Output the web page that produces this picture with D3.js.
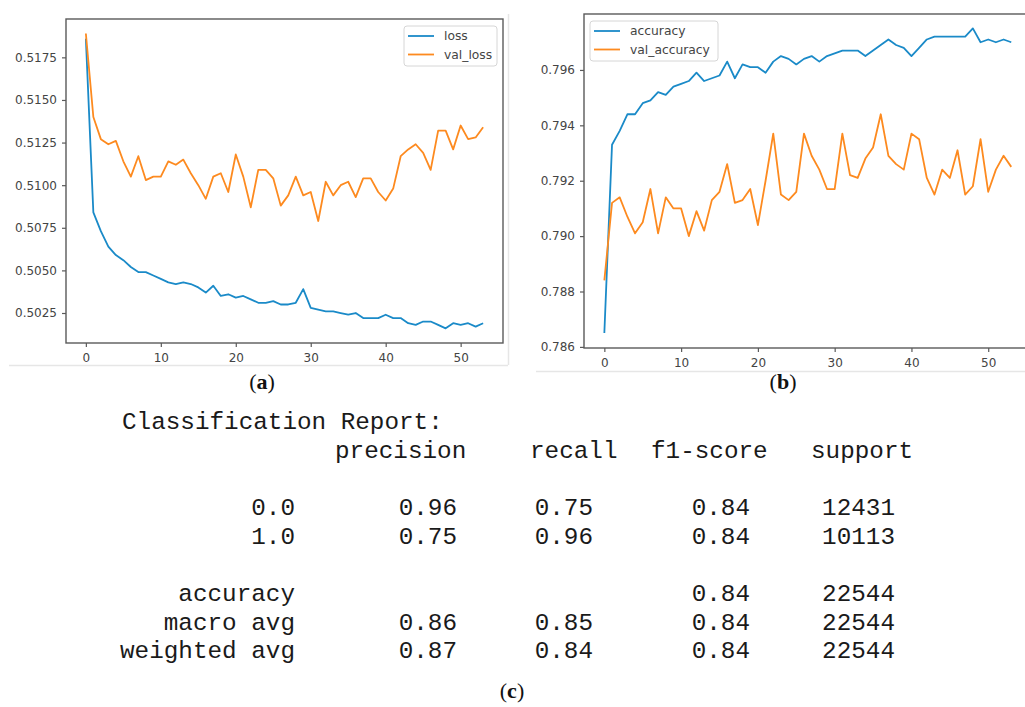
<!DOCTYPE html>
<html>
<head>
<meta charset="utf-8">
<script src="https://cdn.jsdelivr.net/npm/d3@7/dist/d3.min.js"></script>
<style>
  body { margin: 0; background: #fff; }
  svg { display: block; }
</style>
</head>
<body>
<script>
// training history (54 epochs)
const epochs = d3.range(54);
const loss = [0.5186, 0.5084, 0.5073, 0.5064, 0.5059, 0.5056, 0.5052, 0.5049, 0.5049, 0.5047,
  0.5045, 0.5043, 0.5042, 0.5043, 0.5042, 0.5040, 0.5037, 0.5041, 0.5035, 0.5036,
  0.5034, 0.5035, 0.5033, 0.5031, 0.5031, 0.5032, 0.5030, 0.5030, 0.5031, 0.5039,
  0.5028, 0.5027, 0.5026, 0.5026, 0.5025, 0.5024, 0.5025, 0.5022, 0.5022, 0.5022,
  0.5024, 0.5022, 0.5022, 0.5019, 0.5018, 0.5020, 0.5020, 0.5018, 0.5016, 0.5019,
  0.5018, 0.5019, 0.5017, 0.5019];
const valLoss = [0.5189, 0.5140, 0.5127, 0.5124, 0.5126, 0.5114, 0.5105, 0.5117, 0.5103, 0.5105,
  0.5105, 0.5114, 0.5112, 0.5115, 0.5107, 0.5100, 0.5092, 0.5105, 0.5107, 0.5096,
  0.5118, 0.5105, 0.5087, 0.5109, 0.5109, 0.5104, 0.5088, 0.5094, 0.5105, 0.5094,
  0.5096, 0.5079, 0.5102, 0.5094, 0.5100, 0.5102, 0.5093, 0.5104, 0.5104, 0.5096,
  0.5091, 0.5098, 0.5117, 0.5121, 0.5124, 0.5119, 0.5109, 0.5132, 0.5132, 0.5121,
  0.5135, 0.5127, 0.5128, 0.5134];
const accuracy = [0.7865, 0.7933, 0.7938, 0.7944, 0.7944, 0.7948, 0.7949, 0.7952, 0.7951, 0.7954,
  0.7955, 0.7956, 0.7959, 0.7956, 0.7957, 0.7958, 0.7963, 0.7957, 0.7962, 0.7961,
  0.7961, 0.7959, 0.7963, 0.7965, 0.7964, 0.7962, 0.7964, 0.7965, 0.7963, 0.7965,
  0.7966, 0.7967, 0.7967, 0.7967, 0.7965, 0.7967, 0.7969, 0.7971, 0.7969, 0.7968,
  0.7965, 0.7968, 0.7971, 0.7972, 0.7972, 0.7972, 0.7972, 0.7972, 0.7975, 0.7970,
  0.7971, 0.7970, 0.7971, 0.7970];
const valAccuracy = [0.7884, 0.7912, 0.7914, 0.7907, 0.7901, 0.7905, 0.7917, 0.7901, 0.7914, 0.7910,
  0.7910, 0.7900, 0.7909, 0.7902, 0.7913, 0.7916, 0.7926, 0.7912, 0.7913, 0.7917,
  0.7904, 0.7920, 0.7937, 0.7915, 0.7913, 0.7916, 0.7937, 0.7929, 0.7924, 0.7917,
  0.7917, 0.7937, 0.7922, 0.7921, 0.7928, 0.7932, 0.7944, 0.7929, 0.7926, 0.7924,
  0.7937, 0.7935, 0.7921, 0.7915, 0.7924, 0.7921, 0.7931, 0.7915, 0.7918, 0.7935,
  0.7916, 0.7924, 0.7929, 0.7925];

const epochTicks = [0, 10, 20, 30, 40, 50];
const lossTicks = [0.5025, 0.5050, 0.5075, 0.5100, 0.5125, 0.5150, 0.5175];
const accTicks = [0.786, 0.788, 0.790, 0.792, 0.794, 0.796];

// classification report
const reportTitle = "Classification Report:";
const reportHeader = ["precision", "recall", "f1-score", "support"];
const reportLabels = ["0.0", "1.0", "accuracy", "macro avg", "weighted avg"];
const reportValues = [
  ["0.96", "0.75", "0.84", "12431"],
  ["0.75", "0.96", "0.84", "10113"],
  ["", "", "0.84", "22544"],
  ["0.86", "0.85", "0.84", "22544"],
  ["0.87", "0.84", "0.84", "22544"]
];
const reportLine = [3, 4, 6, 7, 8];   // text line each row sits on

const blue = "#1a8ac8", orange = "#fd8a1f", axisCol = "#5a5a5a", textCol = "#444";

const svg = d3.select("body").append("svg")
  .attr("width", 1025).attr("height", 707)
  .style("font-family", "'DejaVu Sans', sans-serif");

// faint panel frames from the pasted screenshots
svg.append("line").attr("x1", 9).attr("x2", 508).attr("y1", 365.5).attr("y2", 365.5)
  .attr("stroke", "#e6e6e6").attr("stroke-width", 1.5);
svg.append("line").attr("x1", 508.5).attr("x2", 508.5).attr("y1", 14).attr("y2", 365)
  .attr("stroke", "#e6e6e6").attr("stroke-width", 1.5);
svg.append("line").attr("x1", 536).attr("x2", 1025).attr("y1", 371.5).attr("y2", 371.5)
  .attr("stroke", "#e6e6e6").attr("stroke-width", 1.5);

function panel(cfg) {
  const x = d3.scaleLinear().domain([-2.65, 55.65]).range([cfg.left, cfg.right]);
  const y = d3.scaleLinear().domain(cfg.yDomain).range([cfg.bottom, cfg.top]);
  const g = svg.append("g");

  const line = d3.line().x((d, i) => x(epochs[i])).y(d => y(d));
  cfg.series.forEach(s => {
    g.append("path").attr("d", line(s.values))
      .attr("fill", "none").attr("stroke", s.color)
      .attr("stroke-width", 1.8).attr("stroke-linejoin", "round");
  });

  // frame
  g.append("rect").attr("x", cfg.left).attr("y", cfg.top)
    .attr("width", cfg.right - cfg.left).attr("height", cfg.bottom - cfg.top)
    .attr("fill", "none").attr("stroke", axisCol).attr("stroke-width", 1.4);

  const xa = g.append("g").attr("transform", `translate(0,${cfg.bottom})`)
    .call(d3.axisBottom(x).tickValues(epochTicks).tickSize(4).tickPadding(6).tickFormat(d3.format("d")));
  const ya = g.append("g").attr("transform", `translate(${cfg.left},0)`)
    .call(d3.axisLeft(y).tickValues(cfg.yTicks).tickSize(4).tickPadding(5).tickFormat(d3.format(cfg.fmt)));
  [xa, ya].forEach(a => {
    a.select(".domain").remove();
    a.selectAll("line").attr("stroke", axisCol).attr("stroke-width", 1.2);
    a.selectAll("text").attr("fill", textCol).style("font-size", "12px")
      .style("font-family", "'DejaVu Sans', sans-serif");
  });

  // legend
  const lg = g.append("g").attr("transform", `translate(${cfg.legend.x},${cfg.legend.y})`);
  lg.append("rect").attr("width", cfg.legend.w).attr("height", 40).attr("rx", 3)
    .attr("fill", "#fff").attr("fill-opacity", 0.85).attr("stroke", "#d6d6d6");
  cfg.series.forEach((s, i) => {
    const yy = 10 + i * 18.5;
    lg.append("line").attr("x1", 4).attr("x2", 30).attr("y1", yy).attr("y2", yy)
      .attr("stroke", s.color).attr("stroke-width", 1.8);
    lg.append("text").attr("x", 40).attr("y", yy).attr("dy", "0.35em")
      .attr("fill", textCol).style("font-size", "12.3px").text(s.name);
  });
}

panel({
  left: 66, right: 503, top: 19, bottom: 343,
  yDomain: [0.50074, 0.51975], yTicks: lossTicks, fmt: ".4f",
  series: [{ name: "loss", values: loss, color: blue }, { name: "val_loss", values: valLoss, color: orange }],
  legend: { x: 404, y: 26, w: 93 }
});

panel({
  left: 584, right: 1031.6, top: 14, bottom: 348,
  yDomain: [0.78596, 0.79802], yTicks: accTicks, fmt: ".3f",
  series: [{ name: "accuracy", values: accuracy, color: blue }, { name: "val_accuracy", values: valAccuracy, color: orange }],
  legend: { x: 590, y: 21, w: 128 }
});

// captions
function caption(cx, by, letter) {
  const t = svg.append("text").attr("x", cx).attr("y", by).attr("text-anchor", "middle")
    .style("font-family", "'Liberation Serif', serif").style("font-size", "22px").attr("fill", "#111");
  t.append("tspan").text("(");
  t.append("tspan").style("font-weight", "bold").text(letter);
  t.append("tspan").text(")");
}
caption(262, 389, "a");
caption(783, 389, "b");
caption(512, 698, "c");

// classification report as monospaced text
const lineY = i => 429 + i * 28.65;
const mono = svg.append("g").style("font-family", "'Liberation Mono', monospace")
  .style("font-size", "24.3px").attr("fill", "#1a1a1a");
const headerX = [335, 530, 651, 811];
const valueEndX = [457, 593, 750, 895];
const labelEndX = 295;

mono.append("text").attr("x", 122).attr("y", lineY(0)).text(reportTitle);
mono.selectAll(".hd").data(reportHeader).join("text")
  .attr("x", (d, i) => headerX[i]).attr("y", lineY(1)).text(d => d);
mono.selectAll(".lb").data(reportLabels).join("text")
  .attr("x", labelEndX).attr("y", (d, i) => lineY(reportLine[i]))
  .attr("text-anchor", "end").text(d => d);
reportValues.forEach((row, r) => {
  mono.append("g").selectAll("text").data(row).join("text")
    .attr("x", (d, i) => valueEndX[i]).attr("y", lineY(reportLine[r]))
    .attr("text-anchor", "end").text(d => d);
});
</script>
</body>
</html>
